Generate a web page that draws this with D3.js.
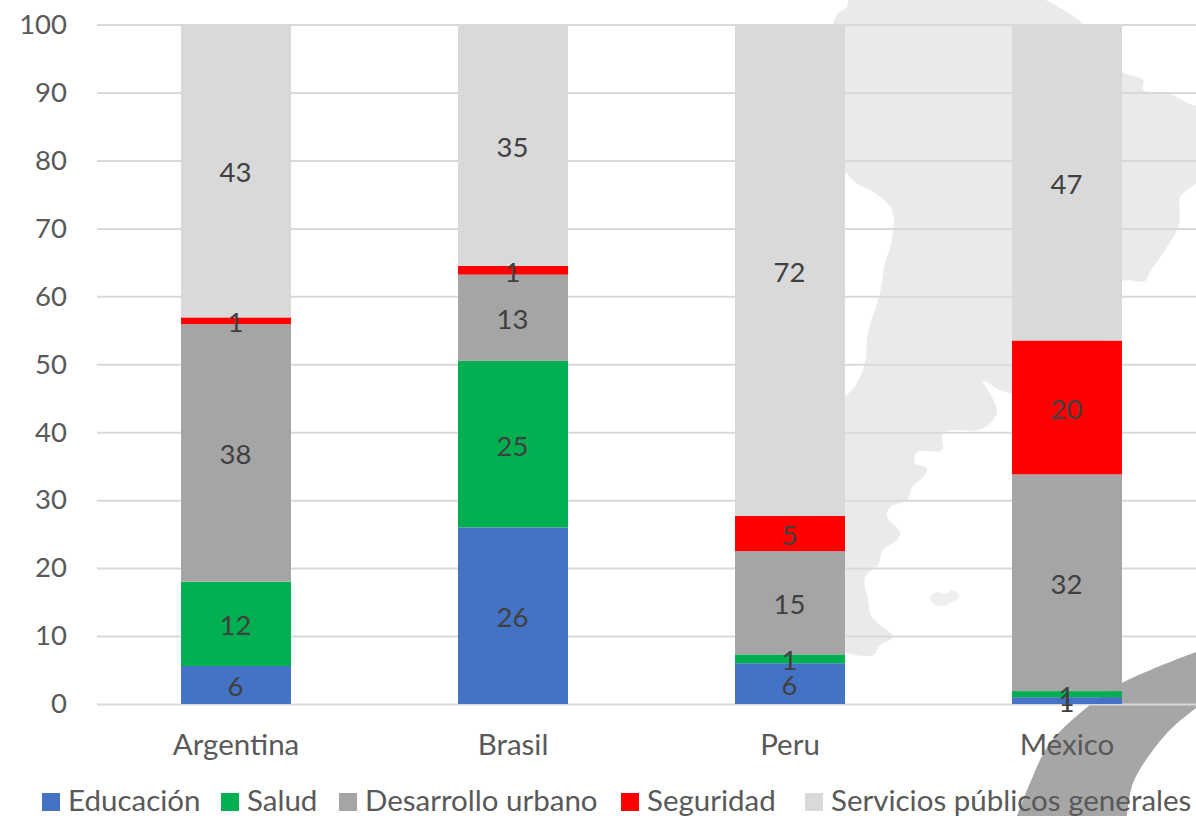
<!DOCTYPE html>
<html><head><meta charset="utf-8">
<style>
html,body{margin:0;padding:0;background:#fff;overflow:hidden}
svg{display:block}
text{font-family:Lato,"Open Sans",sans-serif}
</style>
<script src="https://cdn.jsdelivr.net/npm/d3@7"></script>
</head><body>
<svg id="c" width="1196" height="816"></svg>
<script>
const categories = ["Argentina","Brasil","Peru","México"];
const seriesNames = ["Educación","Salud","Desarrollo urbano","Seguridad","Servicios públicos generales"];
const educacion = [5.6,26,6,1];
const salud = [12.4,24.5,1.3,0.9];
const desarrollo = [37.9,12.7,15.2,31.9];
const seguridad = [1,1.3,5.2,19.7];
const servicios = [43.1,35.4,72.3,46.5];
const seriesColors = ["#4472c4","#00b050","#a5a5a5","#ff0000","#d9d9d9"];
const yTicks = [0,10,20,30,40,50,60,70,80,90,100];

// decorative backdrop outlines (page artwork, not data)
const mapOutline = [[833,24],[838,13],[846,8],[852,-4],[1033,-4],[1060,8],[1083,24],[1100,50],[1122,72],[1143,80],[1143,90],[1167,93],[1190,104],[1210,112],[1210,170],[1187,190],[1180,197],[1179,225],[1165,250],[1150,272],[1145,281],[1122,281],[1100,300],[1100,393],[1011,393],[1000,390],[983,381],[992,397],[997,413],[988,425],[978,430],[943,433],[942,450],[917,452],[915,463],[927,468],[923,477],[912,487],[907,500],[890,507],[887,517],[900,532],[897,540],[883,550],[878,565],[865,577],[868,600],[872,617],[893,637],[880,645],[873,655],[830,642],[830,420],[857,383],[865,363],[868,333],[880,293],[885,263],[892,240],[892,210],[875,193],[855,182],[830,150],[800,100]];
const falkland = [[930,597],[938,592],[945,594],[952,590],[960,596],[952,602],[944,606],[934,604]];
const ringOuter = [[1196,652],[1122,683],[1090,705],[1050,743],[1030,783],[1017,816]];
const ringInner = [[1127,816],[1133,783],[1153,750],[1173,727],[1196,708]];

const W=1196,H=816;
const svg=d3.select("#c");
const closed=d3.line().curve(d3.curveCatmullRomClosed.alpha(0.5));
const curve=d3.line().curve(d3.curveCatmullRom);

svg.append("path").attr("d",closed(mapOutline)).attr("fill","#eaeaea");
svg.append("path").attr("d",closed(falkland)).attr("fill","#efefef");
svg.append("path").attr("d",curve(ringOuter)+"L"+curve(ringInner).slice(1)+"Z").attr("fill","#a6a6a6");

const x=d3.scaleBand().domain(categories).range([97.5,1205.5]).paddingInner(0.603).paddingOuter(0.3015);
const y=d3.scaleLinear().domain([0,100]).range([704,24.6]);

const yAxis=d3.axisLeft(y).tickValues(yTicks).tickSize(-(W-97)).tickPadding(30);
const gy=svg.append("g").attr("transform","translate(97,0)").call(yAxis);
gy.select(".domain").remove();
gy.selectAll("line").attr("stroke","#d9d9d9").attr("stroke-width",2);
gy.selectAll("text").attr("fill","#595959").style("font-size","27.5px").attr("font-family","Lato").attr("dy","0.32em");

const stackData=categories.map((c,i)=>{
  const vals=[educacion[i],salud[i],desarrollo[i],seguridad[i],servicios[i]];
  const o={c};seriesNames.forEach((s,j)=>o[s]=vals[j]);return o;
});
const stacked=d3.stack().keys(seriesNames)(stackData);

const layers=svg.append("g").selectAll("g").data(stacked).join("g").attr("fill",(d,i)=>seriesColors[i]);
layers.selectAll("rect").data(d=>d).join("rect")
 .attr("x",d=>x(d.data.c)).attr("width",x.bandwidth())
 .attr("y",d=>y(d[1])).attr("height",d=>y(d[0])-y(d[1]));

const labels=svg.append("g");
stacked.forEach(s=>{
 labels.selectAll(null).data(s).join("text")
  .attr("x",d=>x(d.data.c)+x.bandwidth()/2-0.5)
  .attr("y",d=>y((d[0]+d[1])/2)+1.5)
  .attr("dy","0.36em").attr("text-anchor","middle")
  .attr("fill","#404040").style("font-size","27.5px")
  .text(d=>d3.format(".0f")(d[1]-d[0]));
});

const xAxis=d3.axisBottom(x).tickSize(0).tickPadding(30);
const gx=svg.append("g").attr("transform","translate(0,704)").call(xAxis);
gx.select(".domain").remove();
gx.selectAll("text").attr("fill","#595959").style("font-size","29.5px").attr("font-family","Lato");

const legendX=[42,221,339,621,805];
const lg=svg.append("g").selectAll("g").data(seriesNames).join("g")
 .attr("transform",(d,i)=>`translate(${legendX[i]},793)`);
lg.append("rect").attr("width",18).attr("height",18).attr("fill",(d,i)=>seriesColors[i]);
lg.append("text").attr("x",26).attr("y",18).attr("fill","#595959").style("font-size","29.5px").text(d=>d);
</script>
</body></html>
